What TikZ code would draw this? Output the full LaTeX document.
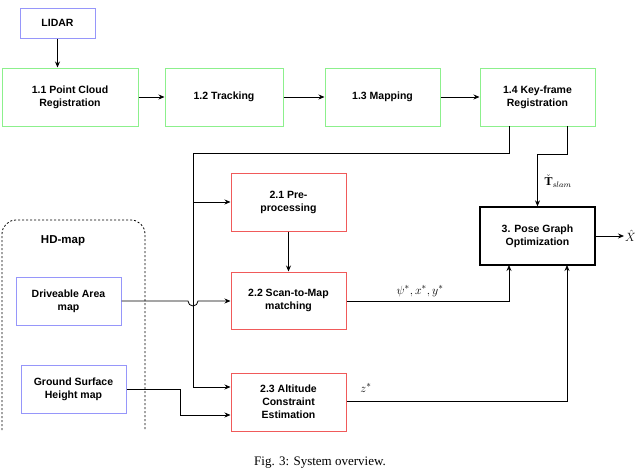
\documentclass[tikz,border=0pt]{standalone}
\usepackage{fontspec}
\setmainfont{Liberation Serif}
\newfontfamily\boxfont{Liberation Sans}
\usetikzlibrary{arrows.meta}
\begin{document}
\begin{tikzpicture}[x=1pt,y=-1pt,
  box/.style={draw,line width=1pt,align=center,font=\boxfont\bfseries\fontsize{10.5}{13}\selectfont,inner sep=0pt},
  g/.style={box,draw={rgb,255:red,140;green,240;blue,140}},
  b/.style={box,draw={rgb,255:red,150;green,150;blue,250}},
  r/.style={box,draw={rgb,255:red,240;green,90;blue,90}},
  k/.style={box,draw=black,line width=1.3pt},
  ar/.style={-{Stealth[length=6pt,width=5pt]},line width=0.8pt},
  ln/.style={line width=0.8pt}]
\useasboundingbox (0,0) rectangle (640,471);
\draw[ln,rounded corners=14pt,dash pattern=on 2pt off 2pt] (2,430) -- (2,220) -- (145,220) -- (145,430);
\node[font=\boxfont\bfseries\fontsize{11.5}{13}\selectfont] (hd) at (63,241) {HD-map};
\node[b,minimum width=75pt,minimum height=30pt] (lidar) at (57.5,23) {LIDAR};
\node[g,minimum width=136pt,minimum height=58pt] (p11) at (70,97) {1.1 Point Cloud\\Registration};
\node[g,minimum width=118pt,minimum height=58pt] (p12) at (224,97) {1.2 Tracking};
\node[g,minimum width=115pt,minimum height=58pt] (p13) at (382.5,97) {1.3 Mapping};
\node[g,minimum width=115pt,minimum height=58pt] (p14) at (537.5,97) {1.4 Key-frame\\Registration};
\node[r,minimum width=115pt,minimum height=58pt] (p21) at (288.5,202) {2.1 Pre-\\processing};
\node[r,minimum width=115pt,minimum height=57pt] (p22) at (288.5,300.5) {2.2 Scan-to-Map\\matching};
\node[r,minimum width=115pt,minimum height=58pt] (p23) at (288.5,402) {2.3 Altitude\\Constraint\\Estimation};
\node[k,minimum width=115pt,minimum height=58pt] (p3) at (537.5,236) {3. Pose Graph\\Optimization};
\node[b,minimum width=105pt,minimum height=48pt] (da) at (68.5,301) {Driveable Area\\map};
\node[b,minimum width=105pt,minimum height=48pt] (gs) at (73.5,389) {Ground Surface\\Height map};
\node[font=\fontsize{13}{14}\selectfont,anchor=west,inner sep=1pt] (xh) at (624,236) {$\hat{X}$};
\node[font=\fontsize{13}{14}\selectfont] (cap) at (320,463) {Fig. 3: System overview.};
\coordinate (j1) at (193,153);
\coordinate (t1) at (567,154);
\coordinate (t2) at (537.5,154);
\draw[ar] (lidar.south) -- (lidar.south |- p11.north);
\draw[ar] (p11) -- (p12);
\draw[ar] (p12) -- (p13);
\draw[ar] (p13) -- (p14);
\draw[ar] (p21) -- (p22);
\draw[ln] (509,126) -- (509,153) -- (j1) -- (193,387);
\draw[ar] (193,202) -- (p21.west);
\draw[ar] (193,387) -- (p23.west |- 0,387);
\draw[ar] (567,126) -- (t1) -- (t2) -- (p3.north);
\node[font=\fontsize{12}{12}\selectfont,anchor=west] (ts) at (541,181) {$\check{\mathbf{T}}_{slam}$};
\draw[ar] (da.east) -- (188,301) arc[start angle=180,end angle=0,radius=5] -- (p22.west |- 0,301);
\draw[ar] (gs.east) -- (180,389) -- (180,415) -- (p23.west |- 0,415);
\draw[ar] (p22.east |- 0,301) -- (509,301) -- (509 ,265);
\node[font=\fontsize{13}{13}\selectfont] (ps) at (420,291) {$\psi^*,x^*,y^*$};
\draw[ar] (p23.east |- 0,401) -- (567,401) -- (567,265);
\node[font=\fontsize{13}{13}\selectfont] (zs) at (366,388) {$z^*$};
\draw[ar] (p3) -- (xh);
\end{tikzpicture}
\end{document}
